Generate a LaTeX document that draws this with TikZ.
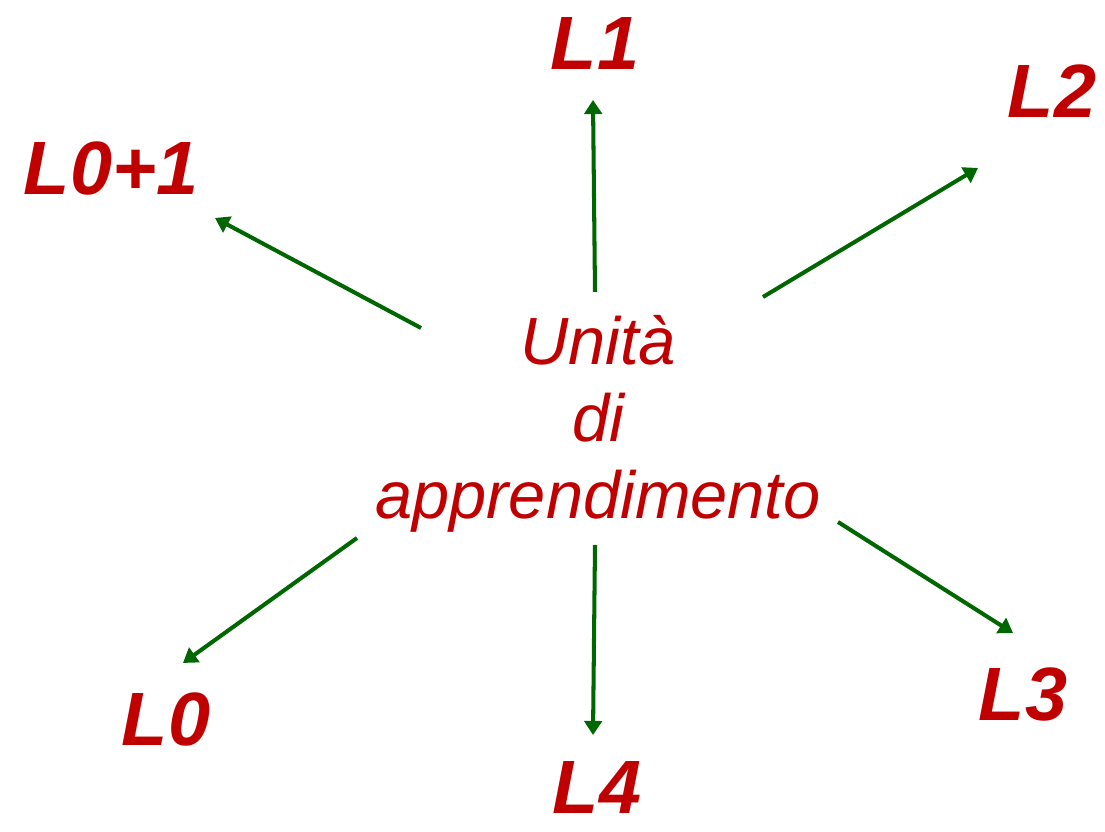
\documentclass[tikz,border=0pt]{standalone}
\usepackage{fontspec}
\setmainfont{Liberation Sans}
\usepackage{xcolor}
\usetikzlibrary{arrows.meta,positioning}
\definecolor{lvred}{HTML}{C00000}
\definecolor{arrgreen}{HTML}{006600}

\begin{document}
\begin{tikzpicture}[line width=1.15pt,
    level/.style={text=lvred, font=\fontsize{21.5}{25}\selectfont\bfseries\itshape, inner sep=0pt},
    arr/.style={arrgreen, -{Triangle[length=4pt,width=5pt]}}]
  \useasboundingbox (0,0) rectangle (11.05,8.32);
  % centre text
  \node[text=lvred, align=center, inner sep=0pt,
    font=\fontsize{19}{22}\selectfont\itshape] (unit) at (5.98,4.08)
    {Unità\\di\\apprendimento};
  % levels round it
  \node[level] (l1) at (5.95,7.88) {L1};
  \node[level] (l2) at (10.52,7.41) {L2};
  \node[level] (l01) at (1.11,6.63) {L0+1};
  \node[level] (l0) at (1.66,1.12) {L0};
  \node[level] (l4) at (5.97,0.44) {L4};
  \node[level] (l3) at (10.23,1.37) {L3};
  % arrow ends
  \coordinate (t1) at (5.95,5.40);
  \coordinate (h1) at (5.93,7.32);
  \coordinate (t2) at (7.63,5.35);
  \coordinate (h2) at (9.78,6.64);
  \coordinate (t01) at (4.21,5.04);
  \coordinate (h01) at (2.15,6.14);
  \coordinate (t0) at (3.57,2.94);
  \coordinate (h0) at (1.83,1.69);
  \coordinate (t4) at (5.95,2.87);
  \coordinate (h4) at (5.93,0.97);
  \coordinate (t3) at (8.38,3.10);
  \coordinate (h3) at (10.13,1.99);
  % arrows
  \draw[arr] (t1) -- (h1);
  \draw[arr] (t2) -- (h2);
  \draw[arr] (t01) -- (h01);
  \draw[arr] (t0) -- (h0);
  \draw[arr] (t4) -- (h4);
  \draw[arr] (t3) -- (h3);
\end{tikzpicture}
\end{document}
